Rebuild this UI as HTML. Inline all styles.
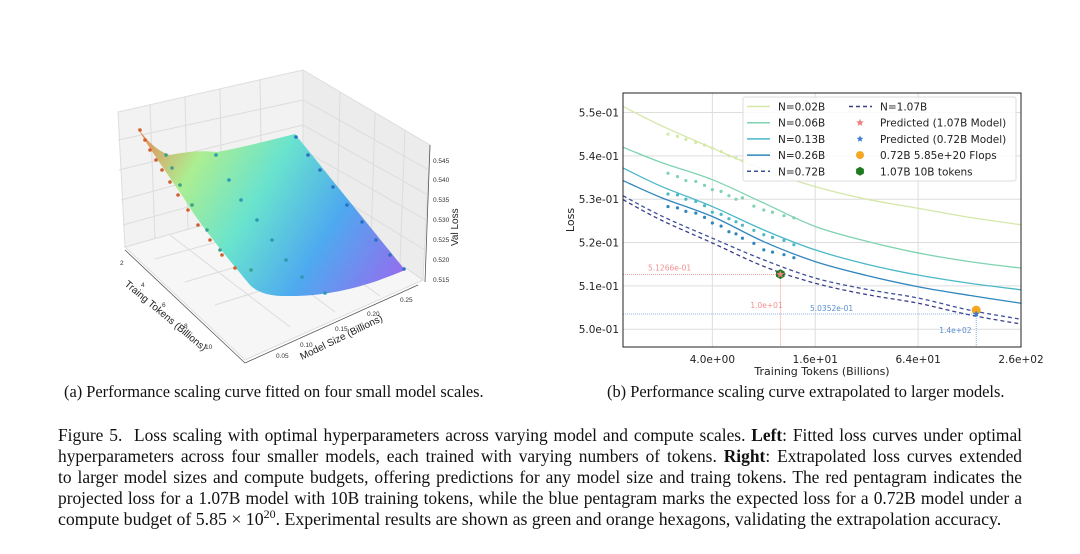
<!DOCTYPE html>
<html><head><meta charset="utf-8">
<style>
html,body{margin:0;padding:0;background:#fff;}
body{width:1080px;height:554px;position:relative;overflow:hidden;font-family:"Liberation Serif",serif;}
.cap{position:absolute;font-size:16.4px;color:#111;white-space:nowrap;}
.ln{position:absolute;left:58px;width:964px;font-size:17.4px;line-height:21px;text-align:justify;text-align-last:justify;color:#111;white-space:nowrap;}
</style></head><body>
<svg id="left" width="540" height="380" style="position:absolute;left:0;top:0" xmlns="http://www.w3.org/2000/svg">
 <defs>
  <linearGradient id="sg" x1="137" y1="127" x2="405" y2="285" gradientUnits="userSpaceOnUse">
   <stop offset="0" stop-color="#f07a4a"/><stop offset="0.22" stop-color="#a8ee8c"/><stop offset="0.45" stop-color="#62e2cc"/><stop offset="0.7" stop-color="#45a6ef"/><stop offset="1" stop-color="#9561ee"/>
  </linearGradient>
 </defs>
 <g>
  <polygon points="118,112 303,70 303,197 125,247" fill="#f2f2f2" stroke="#ddd"/>
  <polygon points="303,70 430,145 423,280 303,197" fill="#ececec" stroke="#ddd"/>
  <polygon points="125,247 303,197 423,280 245,360" fill="#f6f6f6" stroke="#ddd"/>
  <g stroke="#dcdcdc" stroke-width="1">
   <line x1="150" y1="105" x2="155" y2="239"/><line x1="185" y1="97" x2="188" y2="230"/><line x1="220" y1="89" x2="222" y2="221"/><line x1="260" y1="80" x2="262" y2="209"/>
   <line x1="118" y1="140" x2="303" y2="100"/><line x1="119" y1="170" x2="303" y2="125"/><line x1="121" y1="200" x2="303" y2="150"/><line x1="123" y1="225" x2="303" y2="175"/>
   <line x1="340" y1="92" x2="337" y2="221"/><line x1="375" y1="113" x2="371" y2="244"/><line x1="405" y1="130" x2="400" y2="264"/>
   <line x1="303" y1="100" x2="429" y2="170"/><line x1="303" y1="125" x2="428" y2="195"/><line x1="303" y1="150" x2="426" y2="220"/><line x1="303" y1="175" x2="425" y2="250"/>
   <line x1="155" y1="259" x2="333" y2="210"/><line x1="185" y1="282" x2="361" y2="230"/><line x1="215" y1="305" x2="390" y2="250"/>
   <line x1="170" y1="235" x2="290" y2="327"/><line x1="215" y1="222" x2="335" y2="312"/><line x1="260" y1="210" x2="380" y2="296"/>
  </g>
 </g>
 <path d="M137,127 C150,145 160,152 170,155 C185,152 200,150 217,152 C245,147 270,140 295,134 L405,270 C370,285 330,297 285,296 C265,296 255,290 250,285 C225,255 200,225 185,200 C165,170 150,150 137,127 Z" fill="url(#sg)" opacity="0.95"/>
 <g fill="#d06030">
  <circle cx="140" cy="130" r="1.8"/><circle cx="145" cy="140" r="1.8"/><circle cx="150" cy="150" r="1.8"/><circle cx="156" cy="160" r="1.8"/><circle cx="162" cy="170" r="1.8"/><circle cx="170" cy="182" r="1.8"/><circle cx="178" cy="195" r="1.8"/><circle cx="188" cy="210" r="1.8"/><circle cx="198" cy="225" r="1.8"/><circle cx="210" cy="240" r="1.8"/><circle cx="222" cy="255" r="1.8"/><circle cx="235" cy="268" r="1.8"/>
 </g>
 <g fill="#3aa090"><circle cx="166" cy="155" r="1.8"/><circle cx="172" cy="168" r="1.8"/><circle cx="180" cy="185" r="1.8"/><circle cx="192" cy="205" r="1.8"/><circle cx="207" cy="230" r="1.8"/><circle cx="220" cy="250" r="1.8"/><circle cx="251" cy="270" r="1.8"/></g>
 <g fill="#2a9ab0"><circle cx="216" cy="155" r="1.8"/><circle cx="229" cy="180" r="1.8"/><circle cx="241" cy="200" r="1.8"/><circle cx="257" cy="220" r="1.8"/><circle cx="272" cy="240" r="1.8"/><circle cx="286" cy="260" r="1.8"/><circle cx="302" cy="277" r="1.8"/><circle cx="325" cy="293" r="1.8"/></g>
 <g fill="#2a70c0"><circle cx="296" cy="137" r="1.8"/><circle cx="308" cy="155" r="1.8"/><circle cx="320" cy="170" r="1.8"/><circle cx="333" cy="187" r="1.8"/><circle cx="347" cy="205" r="1.8"/><circle cx="362" cy="222" r="1.8"/><circle cx="376" cy="240" r="1.8"/><circle cx="390" cy="255" r="1.8"/><circle cx="404" cy="269" r="1.8"/></g>
 <g stroke="#555" stroke-width="0.8" fill="none">
  <line x1="125" y1="250" x2="245" y2="363"/><line x1="245" y1="363" x2="418" y2="285"/><line x1="430" y1="145" x2="425" y2="282"/>
 </g>
 <g font-family="Liberation Sans, sans-serif" font-size="6.5" fill="#333">
  <text x="120" y="265">2</text><text x="141" y="287">4</text><text x="162" y="307">6</text><text x="184" y="328">8</text><text x="205" y="349">10</text>
  <text x="276" y="358">0.05</text><text x="300" y="347">0.10</text><text x="335" y="331">0.15</text><text x="367" y="316">0.20</text><text x="400" y="302">0.25</text>
  <text x="433" y="163">0.545</text><text x="433" y="182">0.540</text><text x="433" y="202">0.535</text><text x="433" y="222">0.530</text><text x="433" y="242">0.525</text><text x="433" y="262">0.520</text><text x="433" y="282">0.515</text>
 </g>
 <text font-family="Liberation Sans, sans-serif" font-size="10" fill="#222" transform="translate(124,285) rotate(40)">Traing Tokens (Billions)</text>
 <text font-family="Liberation Sans, sans-serif" font-size="10" fill="#222" transform="translate(302,360) rotate(-26)">Model Size (Billions)</text>
 <text font-family="Liberation Sans, sans-serif" font-size="10" fill="#222" transform="translate(458,246) rotate(-90)">Val Loss</text>
</svg>

<svg id="chart" width="1080" height="390" style="position:absolute;left:0;top:0" xmlns="http://www.w3.org/2000/svg"></svg>

<div class="cap" style="left:64px;top:382px;">(a) Performance scaling curve fitted on four small model scales.</div>
<div class="cap" style="left:607px;top:382px;">(b) Performance scaling curve extrapolated to larger models.</div>

<div>
<div class="ln" style="top:425px;">Figure 5.&nbsp; Loss scaling with optimal hyperparameters across varying model and compute scales. <b>Left</b>: Fitted loss curves under optimal</div>
<div class="ln" style="top:446px;">hyperparameters across four smaller models, each trained with varying numbers of tokens. <b>Right</b>: Extrapolated loss curves extended</div>
<div class="ln" style="top:467px;">to larger model sizes and compute budgets, offering predictions for any model size and traing tokens. The red pentagram indicates the</div>
<div class="ln" style="top:488px;">projected loss for a 1.07B model with 10B training tokens, while the blue pentagram marks the expected loss for a 0.72B model under a</div>
<div class="ln" style="top:509px;font-size:17.8px;text-align-last:left;">compute budget of 5.85 × 10<sup style="font-size:12px;line-height:0">20</sup>. Experimental results are shown as green and orange hexagons, validating the extrapolation accuracy.</div>
</div>

<script>
const curveTokens = [1.2, 2, 4, 8, 16, 32, 64, 128, 256];
const seriesNames = ["N=0.02B","N=0.06B","N=0.13B","N=0.26B","N=0.72B","N=1.07B"];
const loss002 = [0.5514, 0.5470, 0.5418, 0.5368, 0.5329, 0.5300, 0.5279, 0.5258, 0.5241];
const loss006 = [0.5420, 0.5385, 0.5345, 0.5291, 0.5237, 0.5203, 0.5176, 0.5156, 0.5141];
const loss013 = [0.5372, 0.5330, 0.5283, 0.5229, 0.5183, 0.5150, 0.5125, 0.5106, 0.5091];
const loss026 = [0.5343, 0.5304, 0.5260, 0.5202, 0.5156, 0.5124, 0.5098, 0.5078, 0.5060];
const loss072 = [0.5308, 0.5262, 0.5210, 0.5160, 0.5118, 0.5092, 0.5072, 0.5044, 0.5023];
const loss107 = [0.5299, 0.5252, 0.5199, 0.5145, 0.5106, 0.5080, 0.5060, 0.5033, 0.5012];
const pointTokens = [2.2, 2.5, 2.8, 3.2, 3.6, 4, 4.5, 5, 5.5, 6, 7, 8, 9, 10.5, 12];
const pts002 = [0.5450, 0.5445, 0.5438, 0.5431, 0.5425, 0.5418, 0.5410, 0.5400, 0.5395, 0.5389];
const pts006 = [0.5360, 0.5352, 0.5343, 0.5341, 0.5332, 0.5322, 0.5318, 0.5308, 0.5300, 0.5303, 0.5284, 0.5275, 0.5270, 0.5262, 0.5257];
const pts013 = [0.5312, 0.5310, 0.5300, 0.5295, 0.5285, 0.5270, 0.5265, 0.5255, 0.5248, 0.5240, 0.5228, 0.5218, 0.5212, 0.5205, 0.5195];
const pts026 = [0.5283, 0.5280, 0.5272, 0.5268, 0.5258, 0.5245, 0.5238, 0.5225, 0.5220, 0.5210, 0.5198, 0.5183, 0.5178, 0.5172, 0.5165];
const xTicks = [4, 16, 64, 256];
const xTickLabels = ["4.0e+00","1.6e+01","6.4e+01","2.6e+02"];
const yTicks = [0.50, 0.51, 0.52, 0.53, 0.54, 0.55];
const yTickLabels = ["5.0e-01","5.1e-01","5.2e-01","5.3e-01","5.4e-01","5.5e-01"];
const pred107 = [10, 0.51266];
const pred072 = [140, 0.50352];
const exp072 = [140, 0.5044];
const exp107 = [10, 0.5127];

const NS = "http://www.w3.org/2000/svg";
const svg = document.getElementById("chart");
const L = 623, R = 1021, T = 93, B = 347;
const xMin = 1.2, xMax = 256, yMin = 0.4959, yMax = 0.5545;
const xS = v => L + (Math.log2(v) - Math.log2(xMin)) / (Math.log2(xMax) - Math.log2(xMin)) * (R - L);
const yS = v => B - (v - yMin) / (yMax - yMin) * (B - T);
function mk(tag, attrs, parent) {
  const e = document.createElementNS(NS, tag);
  for (const k in attrs) e.setAttribute(k, attrs[k]);
  (parent || svg).appendChild(e);
  return e;
}
xTicks.forEach((t, i) => {
  const g = mk("line", {x1: xS(t), x2: xS(t), y1: T, y2: B, stroke: "#ddd", "stroke-width": 1});
  
  
  const tx = mk("text", {x: xS(t), y: B + 16, "text-anchor": "middle", "font-size": 10.5, "font-family": "DejaVu Sans, sans-serif", fill: "#222"});
  tx.textContent = xTickLabels[i];
  
  
});
yTicks.forEach((t, i) => {
  const g = mk("line", {x1: L, x2: R, y1: yS(t), y2: yS(t), stroke: "#ddd", "stroke-width": 1});
  
  
  const tx = mk("text", {x: L - 4, y: yS(t) + 4, "text-anchor": "end", "font-size": 10.5, "font-family": "DejaVu Sans, sans-serif", fill: "#222"});
  tx.textContent = yTickLabels[i];
  
  
});
const curveData = [loss002, loss006, loss013, loss026, loss072, loss107];
const colors = ["#d4e8a8", "#7fd3b0", "#4bb8c8", "#2f86be", "#3e4f9a", "#3a3f88"];
const dashes = ["", "", "", "", "4,3", "4,3"];
function smoothPath(xs, ys) {
  const p = xs.map((x, i) => [xS(x), yS(ys[i])]);
  let d = "M" + p[0][0] + "," + p[0][1];
  for (let i = 0; i < p.length - 1; i++) {
    const p0 = p[Math.max(0, i - 1)], p1 = p[i], p2 = p[i + 1], p3 = p[Math.min(p.length - 1, i + 2)];
    const c1 = [p1[0] + (p2[0] - p0[0]) / 6, p1[1] + (p2[1] - p0[1]) / 6];
    const c2 = [p2[0] - (p3[0] - p1[0]) / 6, p2[1] - (p3[1] - p1[1]) / 6];
    d += " C" + c1 + " " + c2 + " " + p2;
  }
  return d;
}
const clip = mk("clipPath", {id: "pc"}); mk("rect", {x: L, y: T, width: R - L, height: B - T}, clip);
curveData.forEach((arr, i) => {
  const p = mk("path", {d: smoothPath(curveTokens, arr), fill: "none", stroke: colors[i], "stroke-width": 1.3, "stroke-dasharray": dashes[i], "clip-path": "url(#pc)"});
  
  
});
const ptSets = [pts002, pts006, pts013, pts026];
ptSets.forEach((arr, si) => {
  arr.forEach((v, j) => {
    const c = mk("circle", {cx: xS(pointTokens[j]), cy: yS(v), r: 1.6, fill: colors[si]});
    
    
  });
});
function refLines(pt, col, name) {
  const h = mk("line", {x1: L, x2: xS(pt[0]), y1: yS(pt[1]), y2: yS(pt[1]), stroke: col, "stroke-width": 0.8, "stroke-dasharray": "1,1"});
  
  
  const v = mk("line", {x1: xS(pt[0]), x2: xS(pt[0]), y1: yS(pt[1]), y2: B, stroke: col, "stroke-width": 0.8, "stroke-dasharray": "1,1"});
  
  
}
refLines(pred107, "#f08080", "pred-107");
refLines(pred072, "#6aa0e0", "pred-072");
function lbl(x, y, t, col, name) {
  const e = mk("text", {x: x, y: y, "font-size": 7.5, "font-family": "DejaVu Sans, sans-serif", fill: col});
  e.textContent = t;
  
  
}
lbl(L + 25, yS(pred107[1]) - 4, "5.1266e-01", "#f09090", "pred-107-loss-label");
lbl(xS(pred107[0]) - 30, B - 39, "1.0e+01", "#f09090", "pred-107-token-label");
lbl(L + 187, yS(pred072[1]) - 3, "5.0352e-01", "#5a8ed0", "pred-072-loss-label");
lbl(xS(pred072[0]) - 37, B - 14, "1.4e+02", "#5a8ed0", "pred-072-token-label");
function hex(cx, cy, r, fill) {
  let pts = [];
  for (let k = 0; k < 6; k++) { const a = Math.PI / 3 * k + Math.PI / 6; pts.push((cx + r * Math.cos(a)) + "," + (cy + r * Math.sin(a))); }
  return mk("polygon", {points: pts.join(" "), fill: fill});
}
function star(cx, cy, r, fill) {
  let pts = [];
  for (let k = 0; k < 10; k++) { const a = -Math.PI / 2 + Math.PI / 5 * k; const rr = k % 2 ? r * 0.45 : r; pts.push((cx + rr * Math.cos(a)) + "," + (cy + rr * Math.sin(a))); }
  return mk("polygon", {points: pts.join(" "), fill: fill});
}
let m = hex(xS(exp107[0]), yS(exp107[1]), 5, "#1e7a1e");
 
m = mk("circle", {cx: xS(exp072[0]), cy: yS(exp072[1]), r: 4.5, fill: "#f5a623"});
 
m = star(xS(pred107[0]), yS(pred107[1]), 4, "#f08080");
 
m = star(xS(pred072[0]), yS(pred072[1]), 3.5, "#3a7ad0");
 
m = mk("rect", {x: L, y: T, width: R - L, height: B - T, fill: "none", stroke: "#222", "stroke-width": 1});
 
m = mk("text", {x: (L + R) / 2, y: B + 28, "text-anchor": "middle", "font-size": 11, "font-family": "DejaVu Sans, sans-serif", fill: "#222"});
m.textContent = "Training Tokens (Billions)";
 
m = mk("text", {x: 0, y: 0, "text-anchor": "middle", "font-size": 11, "font-family": "DejaVu Sans, sans-serif", fill: "#222", transform: "translate(574," + ((T + B) / 2) + ") rotate(-90)"});
m.textContent = "Loss";
 
const lg = mk("g", {});
 
mk("rect", {x: 743, y: 97, width: 273, height: 84, rx: 2, fill: "rgba(255,255,255,0.85)", stroke: "#ddd"}, lg);
const legendLeft = ["N=0.02B","N=0.06B","N=0.13B","N=0.26B","N=0.72B"];
legendLeft.forEach((n, i) => {
  const y = 106.5 + i * 16.2;
  mk("line", {x1: 747, x2: 770, y1: y, y2: y, stroke: colors[i], "stroke-width": 1.5, "stroke-dasharray": dashes[i]}, lg);
  const t = mk("text", {x: 778, y: y + 4, "font-size": 10.5, "font-family": "DejaVu Sans, sans-serif", fill: "#222"}, lg);
  t.textContent = n;
   
});
const rightLabels = ["N=1.07B","Predicted (1.07B Model)","Predicted (0.72B Model)","0.72B 5.85e+20 Flops","1.07B 10B tokens"];
rightLabels.forEach((n, i) => {
  const y = 106.5 + i * 16.2;
  if (i === 0) mk("line", {x1: 849, x2: 872, y1: y, y2: y, stroke: colors[5], "stroke-width": 1.5, "stroke-dasharray": "4,3"}, lg);
  if (i === 1) lg.appendChild(star(860, y, 4, "#f08080"));
  if (i === 2) lg.appendChild(star(860, y, 3.5, "#3a7ad0"));
  if (i === 3) mk("circle", {cx: 860, cy: y, r: 4, fill: "#f5a623"}, lg);
  if (i === 4) lg.appendChild(hex(860, y, 4.5, "#1e7a1e"));
  const t = mk("text", {x: 880, y: y + 4, "font-size": 10.5, "font-family": "DejaVu Sans, sans-serif", fill: "#222"}, lg);
  t.textContent = n;
   
});
</script>
</body></html>
